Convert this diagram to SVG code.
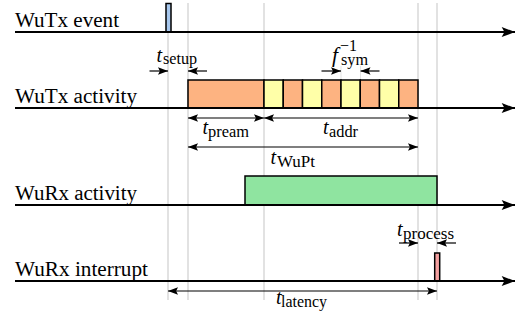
<svg xmlns="http://www.w3.org/2000/svg" width="526" height="320" viewBox="0 0 526 320">
<defs>
<marker id="ah" markerUnits="userSpaceOnUse" markerWidth="10" markerHeight="8" refX="8" refY="3" orient="auto-start-reverse" viewBox="0 0 8 6">
<path d="M0,0 L8,3 L0,6 L1.5,3 z" fill="#000"/>
</marker>
<marker id="axh" markerUnits="userSpaceOnUse" markerWidth="14" markerHeight="10" refX="12" refY="4.5" orient="auto" viewBox="0 0 12 9">
<path d="M0,0 L12,4.5 L0,9 L2.5,4.5 z" fill="#000"/>
</marker>
<style>
.guide{stroke:#cfcfcf;stroke-width:1.2;fill:none}
.faint{stroke:#dcdcdc;stroke-width:0.8;fill:none}
.axis{stroke:#000;stroke-width:1.8;fill:none}
.dim{stroke:#000;stroke-width:1.2;fill:none}
.box{stroke:#000;stroke-width:1.5}
.or{fill:#fdb381}
.ye{fill:#ffffa8}
.lbl{font-family:'Liberation Serif';font-size:20.5px;fill:#000}
.it{font-family:'Liberation Serif';font-size:20px;font-style:italic;fill:#000}
.sb{font-family:'Liberation Serif';font-size:16px;fill:#000}
</style>
</defs>
<rect width="526" height="320" fill="#fff"/>
<g id="guides">
<line class="guide" x1="168" y1="3" x2="168" y2="300"/>
<line class="guide" x1="188" y1="3" x2="188" y2="300"/>
<line class="guide" x1="264" y1="3" x2="264" y2="300"/>
<line class="guide" x1="418" y1="3" x2="418" y2="300"/>
<line class="guide" x1="437" y1="3" x2="437" y2="300"/>
<line class="faint" x1="341" y1="66" x2="341" y2="80"/>
<line class="faint" x1="360.5" y1="66" x2="360.5" y2="80"/>
</g>
<g id="wutx-event">
<text class="lbl" x="15" y="27" textLength="104" lengthAdjust="spacingAndGlyphs">WuTx event</text>
<rect class="box" x="166" y="3.5" width="5" height="28.5" fill="#a8c8ee" stroke-width="1.2"/>
</g>
<g id="wutx-activity">
<text class="lbl" x="15" y="103" textLength="122" lengthAdjust="spacingAndGlyphs">WuTx activity</text>
<rect class="box or" x="188" y="80" width="76" height="28"/>
<rect class="box ye" x="264" y="80" width="19.25" height="28"/>
<rect class="box or" x="283.25" y="80" width="19.25" height="28"/>
<rect class="box ye" x="302.5" y="80" width="19.25" height="28"/>
<rect class="box or" x="321.75" y="80" width="19.25" height="28"/>
<rect class="box ye" x="341" y="80" width="19.25" height="28"/>
<rect class="box or" x="360.25" y="80" width="19.25" height="28"/>
<rect class="box ye" x="379.5" y="80" width="19.25" height="28"/>
<rect class="box or" x="398.75" y="80" width="19.25" height="28"/>
</g>
<g id="wurx-activity">
<text class="lbl" x="15" y="200" textLength="122" lengthAdjust="spacingAndGlyphs">WuRx activity</text>
<rect class="box" x="245" y="176" width="192" height="29" fill="#8fe4a0"/>
</g>
<g id="wurx-interrupt">
<text class="lbl" x="15" y="276" textLength="133" lengthAdjust="spacingAndGlyphs">WuRx interrupt</text>
<rect class="box" x="434.7" y="253" width="5" height="28" fill="#f4a0a0" stroke-width="1.2"/>
</g>
<g id="connectors">
<line class="axis" x1="15" y1="32" x2="515" y2="32" marker-end="url(#axh)"/>
<line class="axis" x1="15" y1="108" x2="515" y2="108" marker-end="url(#axh)"/>
<line class="axis" x1="15" y1="205" x2="515" y2="205" marker-end="url(#axh)"/>
<line class="axis" x1="15" y1="281" x2="515" y2="281" marker-end="url(#axh)"/>
<line class="dim" x1="149.5" y1="71" x2="168" y2="71" marker-end="url(#ah)"/>
<line class="dim" x1="207" y1="71" x2="188" y2="71" marker-end="url(#ah)"/>
<line class="dim" x1="321.5" y1="71" x2="341" y2="71" marker-end="url(#ah)"/>
<line class="dim" x1="379.5" y1="71" x2="360.5" y2="71" marker-end="url(#ah)"/>
<line class="dim" x1="188" y1="118" x2="264" y2="118" marker-start="url(#ah)" marker-end="url(#ah)"/>
<line class="dim" x1="264" y1="118" x2="418" y2="118" marker-start="url(#ah)" marker-end="url(#ah)"/>
<line class="dim" x1="188" y1="147" x2="418" y2="147" marker-start="url(#ah)" marker-end="url(#ah)"/>
<line class="dim" x1="399" y1="243" x2="418" y2="243" marker-end="url(#ah)"/>
<line class="dim" x1="456" y1="243" x2="437" y2="243" marker-end="url(#ah)"/>
<line class="dim" x1="168" y1="291" x2="437" y2="291" marker-start="url(#ah)" marker-end="url(#ah)"/>
</g>
<g id="labels">
<text class="it" x="156.5" y="61.5" textLength="5.6" lengthAdjust="spacingAndGlyphs">t</text>
<text class="sb" x="163" y="64" textLength="34" lengthAdjust="spacingAndGlyphs">setup</text>
<text class="it" x="332" y="61.5" textLength="6" lengthAdjust="spacingAndGlyphs">f</text>
<text class="sb" x="340" y="51" textLength="17" lengthAdjust="spacingAndGlyphs">−1</text>
<text class="sb" x="341" y="65" textLength="27" lengthAdjust="spacingAndGlyphs">sym</text>
<text class="it" x="202.5" y="134" textLength="5.6" lengthAdjust="spacingAndGlyphs">t</text>
<text class="sb" x="208" y="137" textLength="41" lengthAdjust="spacingAndGlyphs">pream</text>
<text class="it" x="323" y="134" textLength="5.6" lengthAdjust="spacingAndGlyphs">t</text>
<text class="sb" x="329" y="137" textLength="29" lengthAdjust="spacingAndGlyphs">addr</text>
<text class="it" x="270.5" y="164" textLength="5.6" lengthAdjust="spacingAndGlyphs">t</text>
<text class="sb" x="277" y="167" textLength="38" lengthAdjust="spacingAndGlyphs">WuPt</text>
<text class="it" x="397" y="236" textLength="5.6" lengthAdjust="spacingAndGlyphs">t</text>
<text class="sb" x="403" y="239" textLength="51" lengthAdjust="spacingAndGlyphs">process</text>
<text class="it" x="276" y="304" textLength="5.6" lengthAdjust="spacingAndGlyphs">t</text>
<text class="sb" x="281" y="307" textLength="46" lengthAdjust="spacingAndGlyphs">latency</text>
</g>
</svg>
